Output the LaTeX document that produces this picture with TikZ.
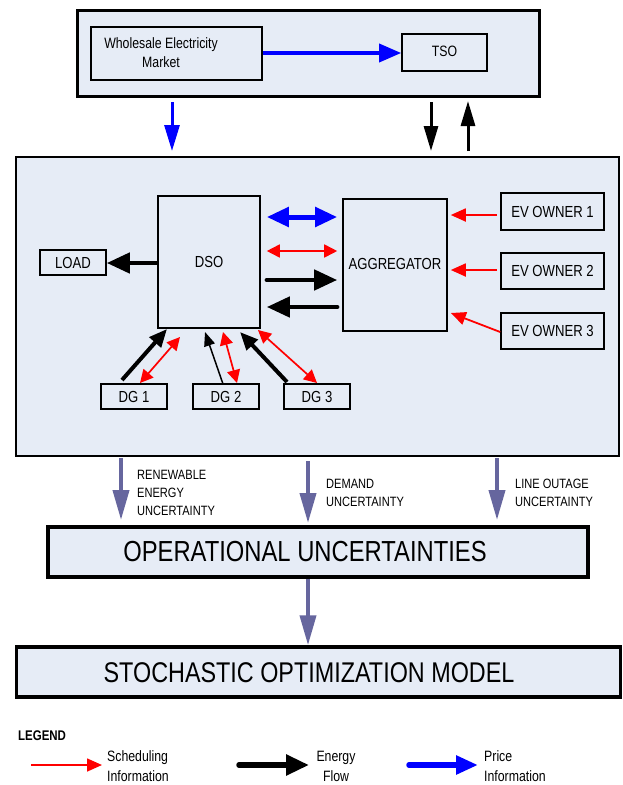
\documentclass[tikz,border=0pt]{standalone}
\usepackage{fontspec}
\setmainfont[FakeStretch=0.82]{Liberation Sans}
\usetikzlibrary{arrows.meta,calc}
\definecolor{boxfill}{RGB}{230,236,246}
\definecolor{arrred}{RGB}{255,0,0}
\definecolor{arrblue}{RGB}{0,0,255}
\definecolor{arrgray}{RGB}{102,102,158}
\begin{document}
\begin{tikzpicture}[x=1pt,y=-1pt,
  box/.style={draw, fill=boxfill, line width=1.6pt, inner sep=0pt, font=\fontsize{15}{18}\selectfont},
  bigbox/.style={draw, fill=boxfill, line width=3pt, inner sep=0pt},
  lbl/.style={font=\fontsize{13.5}{18}\selectfont, align=left, anchor=west, inner sep=0pt},
  redone/.style={draw=arrred, line width=1.8pt, -{Triangle[length=15pt,width=13pt]}},
  reddbl/.style={draw=arrred, line width=1.7pt, {Triangle[length=13pt,width=13pt]}-{Triangle[length=13pt,width=13pt]}},
  bluedbl/.style={draw=arrblue, line width=5pt, {Triangle[length=22pt,width=19pt]}-{Triangle[length=22pt,width=19pt]}},
  blueone/.style={draw=arrblue, line width=3.5pt, -{Triangle[length=22pt,width=18pt]}},
  bluedown/.style={draw=arrblue, line width=3pt, -{Triangle[length=26pt,width=15pt]}},
  blkone/.style={draw=black, line width=4.5pt, -{Triangle[length=23pt,width=20pt]}},
  blkvert/.style={draw=black, line width=3pt, -{Triangle[length=25pt,width=14pt]}},
  blkdg/.style={draw=black, line width=4pt, -{Triangle[length=18pt,width=15pt]}},
  blkthin/.style={draw=black, line width=1.5pt, -{Triangle[length=14pt,width=11pt]}},
  grayarr/.style={draw=arrgray, line width=4pt, -{Triangle[length=30pt,width=16pt]}}
]
\useasboundingbox (0,0) rectangle (622,785);

% top block
\node[bigbox, minimum width=462pt, minimum height=86pt] (top) at (308,53) {};
\node[box, minimum width=171pt, minimum height=53pt] (wem) at (176.5,53.5) {};
\node[font=\fontsize{15}{19}\selectfont, align=center, inner sep=0pt] (wemtxt) at (161,52.5) {Wholesale Electricity\\Market};
\node[box, minimum width=85pt, minimum height=37pt] (tso) at (444.5,52.5) {\raisebox{3pt}{TSO}};
\draw[blueone] (wem.east |- 0,53) -- (tso.west |- 0,53);

% middle block
\node[draw, fill=boxfill, line width=2pt, inner sep=0pt, minimum width=603pt, minimum height=299pt] (mid) at (317.5,306.5) {};
\coordinate (bd1) at (172,102);
\coordinate (bd2) at (172,151);
\draw[bluedown] (bd1) -- (bd2);
\coordinate (kd1) at (431,102);
\coordinate (kd2) at (431,151);
\draw[blkvert] (kd1) -- (kd2);
\coordinate (ku1) at (468,151);
\coordinate (ku2) at (468,101);
\draw[blkvert] (ku1) -- (ku2);

\node[box, minimum width=102pt, minimum height=132pt, font=\fontsize{16}{18}\selectfont] (dso) at (209,262) {DSO};
\node[box, minimum width=66pt, minimum height=25pt, font=\fontsize{16}{18}\selectfont] (load) at (73,262.5) {LOAD};
\node[box, minimum width=104pt, minimum height=132pt, font=\fontsize{16}{18}\selectfont] (agg) at (395,265) {\raisebox{3pt}{AGGREGATOR}};
\node[box, minimum width=103pt, minimum height=37pt, font=\fontsize{16}{18}\selectfont] (ev1) at (552.5,211.5) {EV OWNER 1};
\node[box, minimum width=103pt, minimum height=36pt, font=\fontsize{16}{18}\selectfont] (ev2) at (552.5,271) {EV OWNER 2};
\node[box, minimum width=103pt, minimum height=36pt, font=\fontsize{16}{18}\selectfont] (ev3) at (552.5,331) {EV OWNER 3};
\node[box, minimum width=66pt, minimum height=25pt, font=\fontsize{16}{18}\selectfont] (dg1) at (134,396.5) {DG 1};
\node[box, minimum width=66pt, minimum height=25pt, font=\fontsize{16}{18}\selectfont] (dg2) at (226,396.5) {DG 2};
\node[box, minimum width=66pt, minimum height=25pt, font=\fontsize{16}{18}\selectfont] (dg3) at (317,396.5) {DG 3};

% DSO - load
\draw[blkone] (dso.west |- 0,263) -- (load.east |- 0,263);
% DSO - aggregator
\draw[bluedbl] ($(dso.east |- 0,217)+(6,0)$) -- ($(agg.west |- 0,217)+(-5,0)$);
\draw[reddbl] ($(dso.east |- 0,251)+(6,0)$) -- ($(agg.west |- 0,251)+(-5,0)$);
\draw[blkone, line cap=round] ($(dso.east |- 0,280)+(6,0)$) -- ($(agg.west |- 0,280)+(-5,0)$);
\draw[blkone, line cap=round] ($(agg.west |- 0,307)+(-5,0)$) -- ($(dso.east |- 0,307)+(6,0)$);
% EV owners
\draw[redone] ($(ev1.west |- 0,215)+(-3,0)$) -- ($(agg.east |- 0,215)+(3,0)$);
\draw[redone] ($(ev2.west |- 0,270)+(-3,0)$) -- ($(agg.east |- 0,270)+(3,0)$);
\draw[redone] (ev3.west |- 0,332) -- ($(agg.east |- 0,313)+(3,0)$);
% DGs
\draw[blkdg] (122,380) -- (167,329);
\draw[reddbl] (140,383) -- (180,337);
\draw[blkthin] (223,384) -- (205,332);
\draw[reddbl] (237,383) -- (223,332);
\draw[blkdg] (287,382) -- (240,332);
\draw[reddbl] (317,383) -- (258,330);

% uncertainties
\node[bigbox, line width=3.5pt, minimum width=540pt, minimum height=50pt] (ops) at (318,552) {};
\node[font=\fontsize{29}{30}\selectfont, inner sep=0pt] (opstxt) at (305,552) {OPERATIONAL UNCERTAINTIES};
\coordinate (g1a) at (121,458); \coordinate (g1b) at (121,520);
\coordinate (g2a) at (308,461); \coordinate (g2b) at (308,523);
\coordinate (g3a) at (497,458); \coordinate (g3b) at (497,520);
\draw[grayarr] (g1a) -- (g1b);
\draw[grayarr] (g2a) -- (g2b);
\draw[grayarr] (g3a) -- (g3b);
\node[lbl] (l1) at (137,493) {RENEWABLE\\ENERGY\\UNCERTAINTY};
\node[lbl] (l2) at (326,492.5) {DEMAND\\UNCERTAINTY};
\node[lbl] (l3) at (515,492.5) {LINE OUTAGE\\UNCERTAINTY};

\node[bigbox, line width=3.5pt, minimum width=604pt, minimum height=50pt] (som) at (318.5,672) {};
\node[font=\fontsize{28.5}{30}\selectfont, inner sep=0pt] (somtxt) at (309,673) {STOCHASTIC OPTIMIZATION MODEL};
\draw[grayarr] (ops.south -| 308,0) -- (som.north -| 308,0);

% legend
\node[font=\bfseries\fontsize{14}{16}\selectfont, anchor=west, inner sep=0pt] (leg) at (18,736) {LEGEND};
\coordinate (la1) at (31,765); \coordinate (la2) at (102,765);
\draw[redone, line width=1.6pt] (la1) -- (la2);
\node[lbl, font=\fontsize{15}{20}\selectfont] (lt1) at (107,766) {Scheduling\\Information};
\coordinate (lb1) at (239,765); \coordinate (lb2) at (309,765);
\draw[blkone, line width=5.5pt, line cap=round] (lb1) -- (lb2);
\node[font=\fontsize{15}{20}\selectfont, align=center, inner sep=0pt] (lt2) at (336,766) {Energy\\Flow};
\coordinate (lc1) at (409,765); \coordinate (lc2) at (478,765);
\draw[blueone, line width=5.5pt, line cap=round] (lc1) -- (lc2);
\node[lbl, font=\fontsize{15}{20}\selectfont] (lt3) at (484,766) {Price\\Information};
\end{tikzpicture}
\end{document}
